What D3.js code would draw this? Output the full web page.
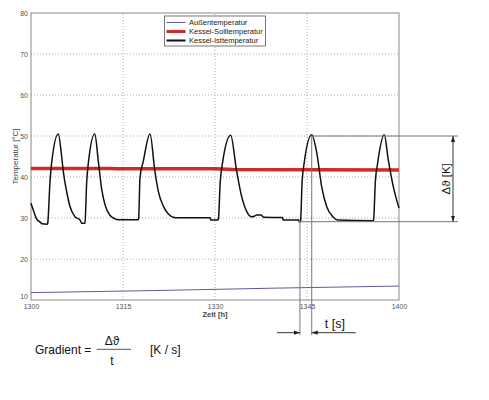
<!DOCTYPE html>
<html>
<head>
<meta charset="utf-8">
<script src="https://cdn.jsdelivr.net/npm/d3@7"></script>
<style>
  body { margin: 0; background: #fff; }
  text { font-family: "Liberation Sans", Arial, sans-serif; }
</style>
</head>
<body>
<div id="chart"></div>
<script>
// time in minutes after 13:00, temperature in °C
var xTicks = [0, 15, 30, 45, 60];
var xTickLabels = ["1300", "1315", "1330", "1345", "1400"];
var yTicks = [10, 20, 30, 40, 50, 60, 70, 80];

var seriesNames = ["Außentemperatur", "Kessel-Solltemperatur", "Kessel-Isttemperatur"];

var aussenTemp = [[0, 11.8], [20, 12.3], [40, 12.9], [60, 13.4]];

var sollTemp = [[0, 42.1], [13, 42.1], [14, 42.0], [30, 42.0], [33, 41.8], [60, 41.7]];

var istTemp = [
	[0, 33.6], [0.4, 31.8], [0.9, 29.8], [1.5, 29.0], [1.8, 28.6], [2.65, 28.5],
	[2.72, 28.7], [3.1, 38.9], [3.37, 43.5], [4.45, 50.5],
	[5.0, 45], [5.27, 41.3], [5.82, 36.4], [6.36, 32.8], [7.17, 30.3], [7.99, 29.5], [8.27, 28.7], [8.69, 28.7],
	[8.8, 28.8], [9.08, 38.8], [9.34, 43.3], [10.4, 50.5],
	[10.98, 43.8], [11.5, 37.3], [12.07, 33.2], [12.9, 30.6], [13.7, 29.8], [14.2, 29.6], [17.45, 29.6],
	[17.55, 29.8], [17.77, 39.8], [18.3, 43.8], [19.4, 50.5],
	[20.2, 41.4], [20.76, 36.5], [21.57, 32.9], [22.4, 31], [23.2, 30.2], [24, 30.05], [29.2, 30.05], [29.3, 29.5], [30.45, 29.5],
	[30.55, 29.7], [30.85, 38.8], [31.2, 43.2], [32.56, 50.2],
	[33.5, 41.7], [34.35, 35.2], [35.2, 31.5], [36.0, 30.3], [36.5, 30.5], [36.8, 30.75], [37.5, 30.75], [37.9, 30.2], [41.0, 30.1], [41.1, 29.5], [43.6, 29.5], [43.7, 29.1], [43.85, 29.1],
	[43.95, 29.3], [44.2, 38.8], [44.5, 43], [45.77, 50.3],
	[46.6, 45.8], [47.4, 37.6], [48.2, 32.8], [49.3, 30.2], [50, 29.5], [55.75, 29.3],
	[55.85, 29.5], [56.15, 39], [56.5, 43.2], [57.6, 50.3],
	[58.26, 44.1], [59.08, 37.6], [60, 32.4]
];

// annotated heating cycle: rise start, peak, bottom and top temperature
var cycleStart = 43.85, cyclePeak = 45.77;
var deltaLow = 29.1, deltaHigh = 50;

var width = 489, height = 400;
var margin = { top: 13, right: 90, bottom: 100, left: 31 };

var svg = d3.select("#chart").append("svg")
	.attr("width", width)
	.attr("height", height)
	.attr("viewBox", [0, 0, width, height]);

svg.append("rect").attr("width", width).attr("height", height).attr("fill", "#fff");

var x = d3.scaleLinear().domain([0, 60]).range([margin.left, width - margin.right]);
var y = d3.scaleLinear().domain([10, 80]).range([height - margin.bottom, margin.top]);

// arrow heads
var defs = svg.append("defs");
defs.append("marker")
	.attr("id", "arr")
	.attr("viewBox", "0 0 10 10")
	.attr("refX", 10).attr("refY", 5)
	.attr("markerWidth", 6).attr("markerHeight", 6)
	.attr("markerUnits", "userSpaceOnUse")
	.attr("orient", "auto-start-reverse")
	.append("path").attr("d", "M0,1.5L10,5L0,8.5Z").attr("fill", "#222");

// grid
var grid = svg.append("g").attr("stroke", "#999").attr("stroke-dasharray", "1,2").attr("stroke-width", 0.8);
grid.selectAll(".gx").data(xTicks.slice(1, -1)).enter().append("line")
	.attr("x1", d => x(d)).attr("x2", d => x(d))
	.attr("y1", y(10)).attr("y2", y(80));
grid.selectAll(".gy").data(yTicks.slice(1, -1)).enter().append("line")
	.attr("x1", x(0)).attr("x2", x(60))
	.attr("y1", d => y(d)).attr("y2", d => y(d));

// axes
var xAxis = d3.axisBottom(x).tickValues(xTicks).tickFormat((d, i) => xTickLabels[i]).tickSize(0).tickPadding(4);
var yAxis = d3.axisLeft(y).tickValues(yTicks).tickSize(0).tickPadding(3);

var gx = svg.append("g").attr("transform", "translate(0," + y(10) + ")").call(xAxis);
var gy = svg.append("g").attr("transform", "translate(" + x(0) + ",0)").call(yAxis);
[gx, gy].forEach(function (g) {
	g.select(".domain").remove();
	g.selectAll("text").attr("fill", "#555").style("font-size", "7px");
});
// lowest y label sits just above the x labels
gy.selectAll(".tick").filter(d => d === 10).select("text").attr("dy", "-0.2em");

svg.append("rect")
	.attr("x", x(0)).attr("y", y(80))
	.attr("width", x(60) - x(0)).attr("height", y(10) - y(80))
	.attr("fill", "none").attr("stroke", "#888").attr("stroke-width", 1);

svg.append("text")
	.attr("x", x(30)).attr("y", y(10) + 17)
	.attr("text-anchor", "middle")
	.attr("fill", "#444").style("font-size", "7.5px").style("font-weight", "bold")
	.text("Zeit [h]");

svg.append("text")
	.attr("transform", "translate(18," + y(45) + ") rotate(-90)")
	.attr("text-anchor", "middle")
	.attr("fill", "#444").style("font-size", "8px")
	.text("Temperatur [°C]");

// series
var line = d3.line().x(d => x(d[0])).y(d => y(d[1]));

svg.append("path").datum(aussenTemp)
	.attr("d", line)
	.attr("fill", "none").attr("stroke", "#5d5aa0").attr("stroke-width", 1);

svg.append("path").datum(sollTemp)
	.attr("d", line)
	.attr("fill", "none").attr("stroke", "#d02a2a").attr("stroke-width", 3.5);

svg.append("path").datum(istTemp)
	.attr("d", line.curve(d3.curveMonotoneX))
	.attr("fill", "none").attr("stroke", "#111").attr("stroke-width", 1.5);

// legend
var legendColors = ["#5d5aa0", "#d02a2a", "#111"];
var legendWidths = [1, 3, 2];
var legend = svg.append("g").attr("transform", "translate(164.5,16)");
legend.append("rect")
	.attr("width", 101).attr("height", 30)
	.attr("fill", "#fff").attr("stroke", "#555").attr("stroke-width", 0.8);
var rows = legend.selectAll(".row").data(seriesNames).enter().append("g")
	.attr("transform", (d, i) => "translate(0," + (6.5 + i * 9) + ")");
rows.append("line")
	.attr("x1", 2).attr("x2", 21)
	.attr("stroke", (d, i) => legendColors[i])
	.attr("stroke-width", (d, i) => legendWidths[i]);
rows.append("text")
	.attr("x", 24.5).attr("dy", "0.35em")
	.attr("fill", "#222").style("font-size", "7.5px")
	.text(d => d);

// Δϑ and t annotations
var ann = svg.append("g").attr("stroke", "#777").attr("stroke-width", 1).attr("fill", "none");
var annRight = x(60) + 59;
var arrowX = x(60) + 54;
ann.append("line")
	.attr("x1", x(cyclePeak)).attr("x2", annRight)
	.attr("y1", y(deltaHigh)).attr("y2", y(deltaHigh));
ann.append("line")
	.attr("x1", x(cycleStart) - 2).attr("x2", annRight)
	.attr("y1", y(deltaLow)).attr("y2", y(deltaLow));
ann.append("line")
	.attr("x1", arrowX).attr("x2", arrowX)
	.attr("y1", y(deltaHigh)).attr("y2", y(deltaLow))
	.attr("stroke", "#333")
	.attr("marker-start", "url(#arr)").attr("marker-end", "url(#arr)");

var tBottom = 335, tArrowY = 332.7;
ann.append("line")
	.attr("x1", x(cycleStart)).attr("x2", x(cycleStart))
	.attr("y1", y(deltaLow)).attr("y2", tBottom);
ann.append("line")
	.attr("x1", x(cyclePeak)).attr("x2", x(cyclePeak))
	.attr("y1", y(deltaHigh)).attr("y2", tBottom);
ann.append("line")
	.attr("x1", x(cycleStart) - 23).attr("x2", x(cycleStart))
	.attr("y1", tArrowY).attr("y2", tArrowY)
	.attr("stroke", "#333").attr("marker-end", "url(#arr)");
ann.append("line")
	.attr("x1", x(cyclePeak) + 44).attr("x2", x(cyclePeak))
	.attr("y1", tArrowY).attr("y2", tArrowY)
	.attr("stroke", "#333").attr("marker-end", "url(#arr)");

svg.append("text")
	.attr("x", x(cyclePeak) + 13).attr("y", 328.3)
	.attr("fill", "#111").style("font-size", "12.5px")
	.text("t [s]");

svg.append("text")
	.attr("transform", "translate(" + (arrowX - 7.5) + "," + ((y(deltaHigh) + y(deltaLow)) / 2) + ") rotate(-90)")
	.attr("text-anchor", "middle").attr("dy", "0.35em")
	.attr("fill", "#111").style("font-size", "11.5px")
	.text("Δϑ [K]");

// formula
var f = svg.append("g").attr("fill", "#111").style("font-size", "12px");
f.append("text").attr("x", 35).attr("y", 354).text("Gradient =");
f.append("text").attr("x", 112).attr("y", 345).attr("text-anchor", "middle").text("Δϑ");
f.append("line").attr("x1", 96.7).attr("x2", 131).attr("y1", 349.3).attr("y2", 349.3)
	.attr("stroke", "#555").attr("stroke-width", 1);
f.append("text").attr("x", 112).attr("y", 365).attr("text-anchor", "middle").text("t");
f.append("text").attr("x", 150).attr("y", 354).text("[K / s]");
</script>
</body>
</html>
